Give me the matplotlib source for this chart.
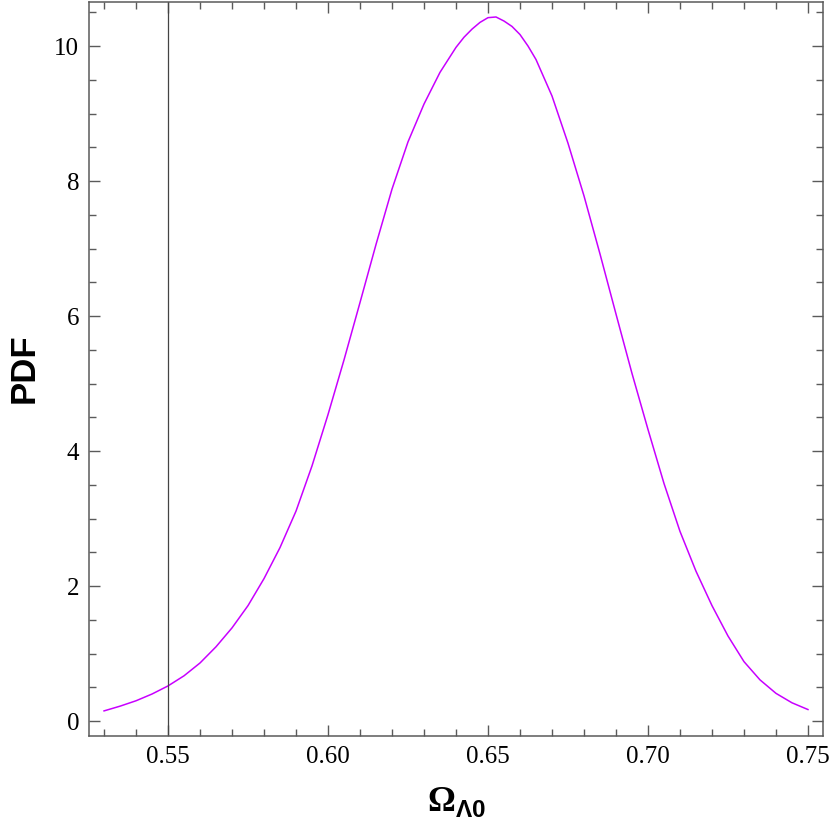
import matplotlib
matplotlib.use('Agg')
import matplotlib.pyplot as plt
from matplotlib.ticker import MultipleLocator

# valores
omega = [0.530, 0.535, 0.540, 0.545, 0.550, 0.555, 0.560, 0.565, 0.570, 0.575,
         0.580, 0.585, 0.590, 0.595, 0.600, 0.605, 0.610, 0.615, 0.620, 0.625,
         0.630, 0.635, 0.640, 0.6425, 0.645, 0.6475, 0.650, 0.6525, 0.655, 0.6575,
         0.660, 0.6625, 0.665, 0.670, 0.675, 0.680, 0.685, 0.690, 0.695, 0.700,
         0.705, 0.710, 0.715, 0.720, 0.725, 0.730, 0.735, 0.740, 0.745, 0.750]
pdf = [0.15, 0.22, 0.30, 0.40, 0.52, 0.67, 0.86, 1.10, 1.38, 1.71,
       2.11, 2.57, 3.11, 3.78, 4.54, 5.35, 6.20, 7.06, 7.88, 8.58,
       9.14, 9.61, 9.98, 10.13, 10.25, 10.35, 10.42, 10.43, 10.37, 10.29,
       10.17, 10.00, 9.80, 9.26, 8.56, 7.78, 6.92, 6.03, 5.15, 4.32,
       3.52, 2.81, 2.22, 1.71, 1.26, 0.88, 0.61, 0.41, 0.27, 0.17]

x_ticks = [0.55, 0.60, 0.65, 0.70, 0.75]
y_ticks = [0, 2, 4, 6, 8, 10]

cor_eixo = '#5a5a5a'

fig = plt.figure(figsize=(8.3, 8.34), dpi=100)
ax = fig.add_axes([89 / 830, 98 / 834, 734 / 830, 734 / 834])

ax.plot(omega, pdf, color='#c800ff', lw=1.1)
ax.axvline(0.55, color='#444444', lw=0.9)

ax.set_xlim(0.5253, 0.7547)
ax.set_ylim(-0.222, 10.652)

ax.set_xticks(x_ticks)
ax.set_xticklabels(['%.2f' % v for v in x_ticks])
ax.set_yticks(y_ticks)
ax.xaxis.set_minor_locator(MultipleLocator(0.01))
ax.yaxis.set_minor_locator(MultipleLocator(0.5))

for s in ax.spines.values():
    s.set_color(cor_eixo)
    s.set_linewidth(1.1)

ax.tick_params(which='both', direction='in', top=True, right=True,
               color=cor_eixo, width=1.0)
ax.tick_params(which='major', length=8, pad=7)
ax.tick_params(which='minor', length=4.8)
for lab in ax.get_xticklabels() + ax.get_yticklabels():
    lab.set_fontfamily('Liberation Serif')
    lab.set_fontsize(18)

# rotulos dos eixos
plt.rcParams['mathtext.fontset'] = 'custom'
plt.rcParams['mathtext.bf'] = 'Liberation Serif:bold'
plt.rcParams['mathtext.sf'] = 'Liberation Sans:bold'
fig.text(456 / 830, 1 - 802 / 834, r'$\mathbf{\Omega}_{\mathsf{\Lambda 0}}$',
         ha='center', va='center', fontsize=25)
fig.text(24 / 830, 1 - 368 / 834, 'PDF', rotation=90, ha='center', va='center',
         fontsize=25, fontweight='bold', family='Liberation Sans')

fig.savefig('out.png', dpi=100)
